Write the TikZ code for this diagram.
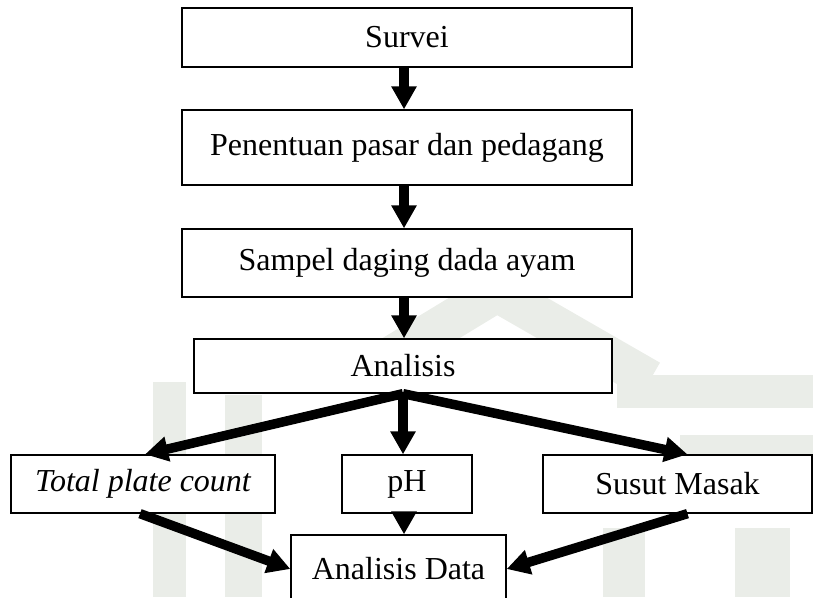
\documentclass[tikz,border=0pt]{standalone}
\usepackage{fontspec}
\setmainfont{Liberation Serif}
\usetikzlibrary{arrows.meta}
\definecolor{wm}{RGB}{234,237,232}
\begin{document}
\begin{tikzpicture}[x=1pt,y=-1pt,
  box/.style={draw=black, line width=1.3pt, fill=white, inner sep=0pt, align=center,
              font=\fontsize{32}{38}\selectfont},
  arr/.style={line width=9.5pt, -{Triangle[width=24pt,length=23pt]}},
  wmark/.style={fill=wm, draw=none}]
\useasboundingbox (0,0) rectangle (813,597);
\clip (0,0) rectangle (813,597);
% faint background watermark
\draw[wm, line width=40pt] (385,360) -- (497,292) -- (650,380);
\fill[wmark] (617,375) rectangle (813,408);
\fill[wmark] (680,435) rectangle (813,455);
\fill[wmark] (153,382) rectangle (186,597);
\fill[wmark] (225,395) rectangle (262,597);
\fill[wmark] (603,528) rectangle (645,597);
\fill[wmark] (735,528) rectangle (790,597);
% boxes
\node[box, minimum width=450pt, minimum height=59pt] (surv) at (407,37.5) {Survei};
\node[box, minimum width=450pt, minimum height=75pt] (pen) at (407,147.5) {Penentuan pasar dan pedagang};
\node[box, minimum width=450pt, minimum height=68pt] (samp) at (407,263) {Sampel daging dada ayam};
\node[box, minimum width=418pt, minimum height=54pt] (ana) at (403,366) {Analisis};
\node[box, minimum width=264pt, minimum height=58pt] (tpc) at (143,484) {\itshape Total plate count};
\node[box, minimum width=130pt, minimum height=58pt] (ph) at (407,484) {pH};
\node[box, minimum width=269pt, minimum height=58pt] (sus) at (677.5,484) {Susut Masak};
\node[box, minimum width=215pt, minimum height=68pt] (data) at (398.5,569) {Analisis Data};
% connectors
\draw[arr] ([xshift=-3pt]surv.south) -- ([xshift=-3pt]pen.north);
\draw[arr] ([xshift=-3pt]pen.south) -- ([xshift=-3pt]samp.north);
\draw[arr] ([xshift=-3pt]samp.south) -- ([xshift=1pt]ana.north);
\draw[arr] (ana.south) -- ([xshift=2pt]tpc.north);
\draw[arr] (ana.south) -- (ana.south |- ph.north);
\draw[arr] (ana.south) -- ([xshift=10pt]sus.north);
\draw[arr] ([xshift=-3pt]tpc.south) -- (data.west);
\draw[arr] ([xshift=-3pt]ph.south) -- ([xshift=-3pt]ph.south |- data.north);
\draw[arr] ([xshift=10pt]sus.south) -- (data.east);
\end{tikzpicture}
\end{document}
